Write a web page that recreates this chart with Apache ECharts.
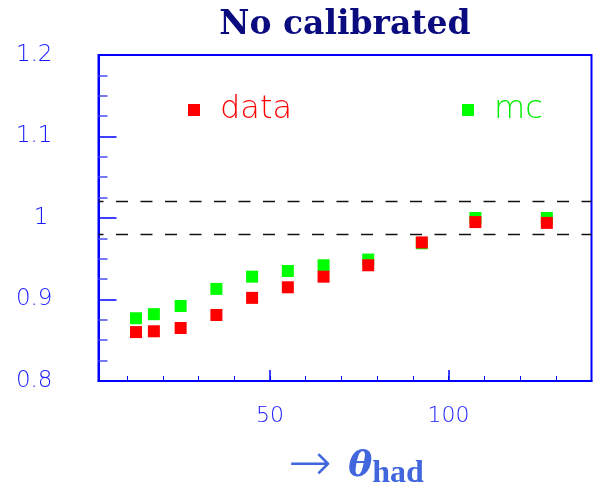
<!DOCTYPE html>
<html>
<head>
<meta charset="utf-8">
<script src="https://cdn.jsdelivr.net/npm/echarts@6/dist/echarts.min.js"></script>
<style>
  html, body { margin: 0; padding: 0; background: #fff; }
  #chart { width: 597px; height: 487px; }
</style>
</head>
<body>
<div id="chart"></div>
<script>
// Hadronic polar angle bins (degrees) and response ratios per bin
const thetaBins = [12.5, 17.5, 25, 35, 45, 55, 65, 77.5, 92.5, 107.5, 127.5];
const dataRatio = [0.860, 0.861, 0.865, 0.881, 0.902, 0.915, 0.928, 0.942, 0.970, 0.995, 0.994];
const mcRatio   = [0.877, 0.882, 0.892, 0.913, 0.928, 0.935, 0.942, 0.949, 0.969, 1.000, 1.000];

// Axis ticks and reference band
const xMinorTicks = [10, 20, 30, 40, 50, 60, 70, 80, 90, 100, 110, 120, 130];
const xMajorTicks = [50, 100];
const bandEdges = [1.02, 0.98];

const AXIS_BLUE = '#0000ff';
const LABEL_BLUE = '#1a1aff';
const NAME_BLUE = '#4166dd';

const chart = echarts.init(document.getElementById('chart'), null, { renderer: 'canvas' });

const pairs = vals => thetaBins.map((t, i) => [t, vals[i]]);

chart.setOption({
  animation: false,
  backgroundColor: '#ffffff',
  title: {
    text: 'No calibrated',
    left: 340,
    textAlign: 'center',
    top: 4,
    textStyle: {
      fontFamily: 'DejaVu Serif',
      fontWeight: 'bold',
      fontSize: 33,
      color: '#0b0b80'
    }
  },
  legend: [
    {
      data: ['data'],
      left: 183,
      top: 89,
      itemWidth: 12,
      itemHeight: 12,
      icon: 'rect',
      textStyle: { color: '#ff0000', fontFamily: 'DejaVu Sans', fontWeight: 200, fontSize: 32, padding: [0, 0, 0, 15] }
    },
    {
      data: ['mc'],
      left: 457,
      top: 89,
      itemWidth: 12,
      itemHeight: 12,
      icon: 'rect',
      textStyle: { color: '#00ee00', fontFamily: 'DejaVu Sans', fontWeight: 200, fontSize: 32, padding: [0, 0, 0, 15] }
    }
  ],
  grid: {
    left: 98.5,
    top: 55,
    width: 493,
    height: 326,
    outerBoundsMode: 'none',
    containLabel: false,
    show: true,
    borderColor: AXIS_BLUE,
    borderWidth: 2,
    backgroundColor: 'transparent'
  },
  xAxis: [
    {
      type: 'value',
      min: 2,
      max: 140,
      position: 'bottom',
      name: '{arr|→ }{th|θ}{sub|had}',
      nameLocation: 'middle',
      nameGap: 59,
      nameTextStyle: {
        padding: [0, 0, 0, 22],
        rich: {
          arr: { fontFamily: 'DejaVu Sans', fontWeight: 200, fontSize: 52, color: NAME_BLUE, padding: [0, 0, 2, 0] },
          th: { fontFamily: 'DejaVu Serif', fontStyle: 'italic', fontWeight: 'bold', fontSize: 36, color: NAME_BLUE },
          sub: { fontFamily: 'Liberation Serif', fontWeight: 'bold', fontSize: 32, color: NAME_BLUE, padding: [14, 0, 0, 0] }
        }
      },
      axisLine: { show: true, onZero: false, lineStyle: { color: AXIS_BLUE, width: 2 } },
      axisTick: {
        show: true,
        inside: true,
        length: 5,
        customValues: xMinorTicks,
        lineStyle: { color: AXIS_BLUE, width: 1 }
      },
      axisLabel: {
        show: true,
        customValues: xMajorTicks,
        margin: 24,
        fontFamily: 'DejaVu Sans',
        fontWeight: 200,
        fontSize: 22,
        color: LABEL_BLUE
      },
      splitLine: { show: false }
    },
    {
      type: 'value',
      min: 2,
      max: 140,
      position: 'bottom',
      axisLine: { show: false },
      axisTick: {
        show: true,
        inside: true,
        length: 11,
        customValues: xMajorTicks,
        lineStyle: { color: AXIS_BLUE, width: 1.5 }
      },
      axisLabel: { show: false },
      splitLine: { show: false }
    }
  ],
  yAxis: {
    type: 'value',
    min: 0.8,
    max: 1.2,
    interval: 0.1,
    axisLine: { show: true, onZero: false, lineStyle: { color: AXIS_BLUE, width: 2 } },
    axisTick: {
      show: true,
      inside: true,
      length: 18,
      lineStyle: { color: AXIS_BLUE, width: 1.5 }
    },
    minorTick: {
      show: true,
      splitNumber: 4,
      length: 9,
      lineStyle: { color: '#4a4aff', width: 1.5 }
    },
    axisLabel: {
      margin: 46,
      fontFamily: 'DejaVu Sans',
      fontWeight: 200,
      fontSize: 23,
      color: LABEL_BLUE,
      formatter: v => (Math.abs(v - 1) < 1e-9 ? '{one|1}' : String(Math.round(v * 10) / 10)),
      rich: {
        one: { fontFamily: 'DejaVu Sans', fontWeight: 200, fontSize: 23, color: LABEL_BLUE, padding: [0, 4, 0, 0] }
      }
    },
    splitLine: { show: false }
  },
  series: [
    {
      name: 'mc',
      type: 'scatter',
      symbol: 'rect',
      symbolSize: 12,
      itemStyle: { color: '#00ff00', opacity: 1 },
      data: pairs(mcRatio),
      z: 2
    },
    {
      name: 'data',
      type: 'scatter',
      symbol: 'rect',
      symbolSize: 12,
      itemStyle: { color: '#ff0000', opacity: 1 },
      data: pairs(dataRatio),
      z: 3,
      markLine: {
        silent: true,
        symbol: ['none', 'none'],
        label: { show: false },
        lineStyle: { color: '#111111', width: 1.3, type: [12, 12.5], dashOffset: 7 },
        data: bandEdges.map(v => ({ yAxis: v }))
      }
    }
  ]
});
</script>
</body>
</html>
